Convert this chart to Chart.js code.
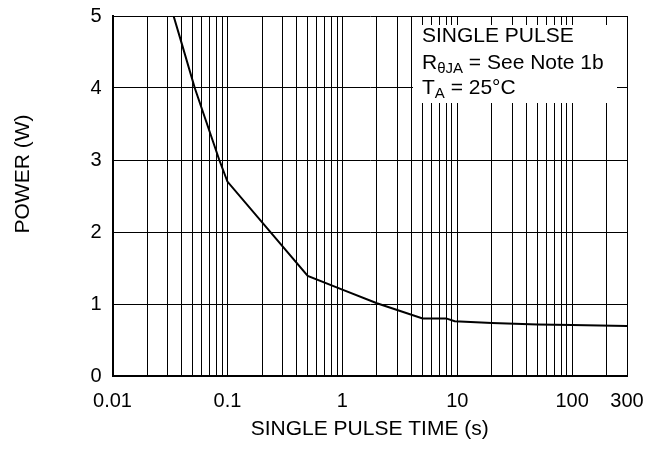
<!DOCTYPE html>
<html>
<head>
<meta charset="utf-8">
<title>Single Pulse Power</title>
<script src="https://cdn.jsdelivr.net/npm/chart.js@4.4.1/dist/chart.umd.min.js"></script>
<style>
    html, body { margin: 0; padding: 0; background: #fff; }
    #chartWrap { width: 660px; height: 451px; }
</style>
</head>
<body>
<div id="chartWrap"><canvas id="powerChart" width="660" height="451"></canvas></div>
<script>
// Curve
const pulseTimes = [0.034, 0.04, 0.052, 0.085, 0.1, 0.5, 1, 2, 5, 8, 9.5, 20, 50, 100, 300];
const powerValues = [5, 4.62, 4, 3, 2.7, 1.39, 1.2, 1.01, 0.8, 0.8, 0.76, 0.735, 0.715, 0.71, 0.695];

// Axis ticks
const decades = [0.01, 0.1, 1, 10, 100];
const xLabelTicks = [0.01, 0.1, 1, 10, 100, 300];
const yTicks = [0, 1, 2, 3, 4, 5];
const xMin = 0.01;
const xMax = 300;

const FONT = '"Liberation Sans", Arial, Helvetica, sans-serif';

// Gridlines at 1..9 of every decade, plus the right edge
const gridTimes = [];
decades.forEach(d => {
    for (let m = 1; m <= 9; m++) {
        const v = Number((m * d).toPrecision(3));
        if (v <= xMax) gridTimes.push(v);
    }
});
if (!gridTimes.includes(xMax)) gridTimes.push(xMax);

// Note box + y axis title
const notePlugin = {
    id: 'noteBox',
    afterDraw(chart) {
        const { ctx, chartArea } = chart;
        const big = '21px ' + FONT;
        const small = '15px ' + FONT;

        ctx.save();
        // white box over the grid
        const boxLeft = chartArea.right - 214;
        const boxTop = chartArea.top + 9;
        ctx.fillStyle = '#fff';
        ctx.fillRect(boxLeft, boxTop, 204, 78);

        ctx.fillStyle = '#000';
        ctx.textBaseline = 'alphabetic';
        ctx.textAlign = 'left';
        const tx = chartArea.right - 205;

        ctx.font = big;
        ctx.fillText('SINGLE PULSE', tx, chartArea.top + 26);

        // R(thetaJA) line
        let x = tx;
        let y = chartArea.top + 53;
        ctx.font = big;
        ctx.fillText('R', x, y);
        x += ctx.measureText('R').width;
        ctx.font = small;
        ctx.fillText('θJA', x, y + 4);
        x += ctx.measureText('θJA').width;
        ctx.font = big;
        ctx.fillText(' = See Note 1b', x, y);

        // T(A) line
        x = tx;
        y = chartArea.top + 78;
        ctx.fillText('T', x, y);
        x += ctx.measureText('T').width;
        ctx.font = small;
        ctx.fillText('A', x, y + 4);
        x += ctx.measureText('A').width;
        ctx.font = big;
        ctx.fillText(' = 25°C', x, y);

        // y axis title
        ctx.translate(23, 174);
        ctx.rotate(-Math.PI / 2);
        ctx.textAlign = 'center';
        ctx.textBaseline = 'middle';
        ctx.font = big;
        ctx.fillText('POWER (W)', 0, 0);
        ctx.restore();
    }
};

document.addEventListener('DOMContentLoaded', () => {
    const ctx = document.getElementById('powerChart');

    new Chart(ctx, {
        type: 'line',
        data: {
            datasets: [{
                data: pulseTimes.map((t, i) => ({ x: t, y: powerValues[i] })),
                borderColor: '#000',
                borderWidth: 2,
                pointRadius: 0,
                tension: 0,
                fill: false
            }]
        },
        options: {
            responsive: false,
            animation: false,
            devicePixelRatio: 1,
            layout: {
                padding: { top: 16, right: 33, left: 0, bottom: 0 }
            },
            plugins: {
                legend: { display: false },
                tooltip: { enabled: false }
            },
            scales: {
                x: {
                    type: 'logarithmic',
                    min: xMin,
                    max: xMax,
                    afterBuildTicks: scale => {
                        scale.ticks = gridTimes.map(v => ({ value: v }));
                    },
                    afterFit: scale => {
                        scale.height = 75;
                        scale.paddingLeft = 0;
                        scale.paddingRight = 0;
                    },
                    grid: { color: '#000', lineWidth: 1, drawTicks: false },
                    border: { color: '#000', width: 2 },
                    ticks: {
                        autoSkip: false,
                        maxRotation: 0,
                        padding: 13,
                        color: '#000',
                        font: { family: FONT, size: 20 },
                        callback: v => xLabelTicks.includes(v) ? String(v) : ''
                    },
                    title: {
                        display: true,
                        text: 'SINGLE PULSE TIME (s)',
                        color: '#000',
                        font: { family: FONT, size: 21 },
                        padding: { top: 0, bottom: 9 }
                    }
                },
                y: {
                    min: yTicks[0],
                    max: yTicks[yTicks.length - 1],
                    afterBuildTicks: scale => {
                        scale.ticks = yTicks.map(v => ({ value: v }));
                    },
                    afterFit: scale => {
                        scale.width = 112.5;
                        scale.paddingTop = 0;
                        scale.paddingBottom = 0;
                    },
                    grid: { color: '#000', lineWidth: 1, drawTicks: false },
                    border: { color: '#000', width: 2 },
                    ticks: {
                        padding: 11,
                        color: '#000',
                        font: { family: FONT, size: 20 }
                    }
                }
            }
        },
        plugins: [notePlugin]
    });
});
</script>
</body>
</html>
